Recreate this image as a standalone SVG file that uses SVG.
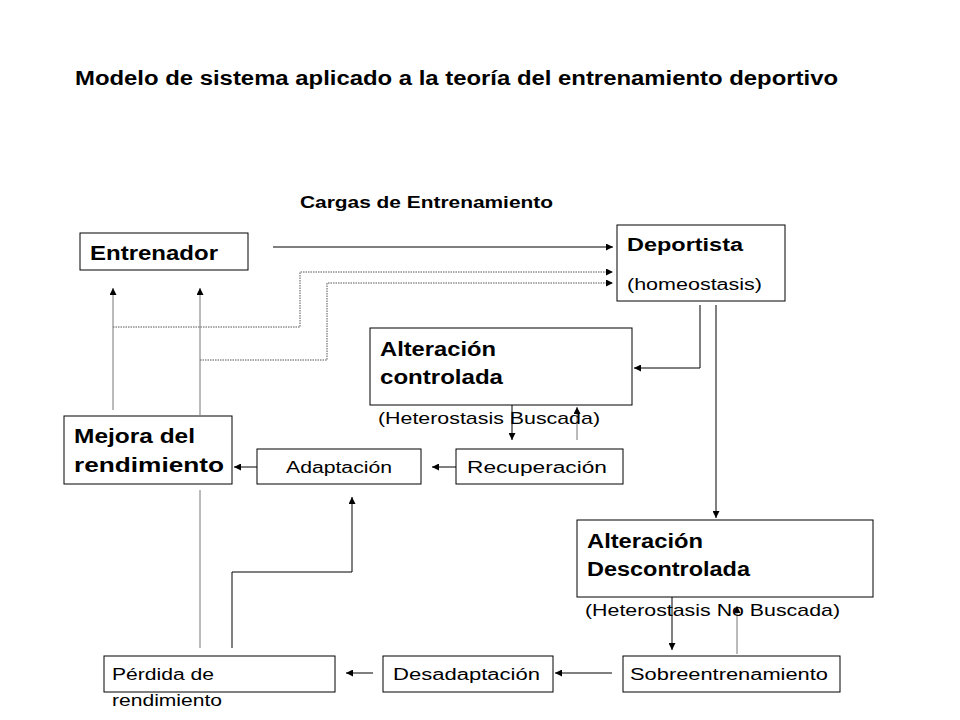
<svg xmlns="http://www.w3.org/2000/svg" width="960" height="720" viewBox="0 0 960 720">
<style>
text{font-family:"Liberation Sans",Arial,sans-serif;fill:#000}
.b{font-weight:bold}
.box{fill:#fff;stroke:#000;stroke-width:1}
.l{fill:none;stroke:#000;stroke-width:1}
.g{fill:none;stroke:#777;stroke-width:1}
.d{fill:none;stroke:#555;stroke-width:1;stroke-dasharray:1.5 1}
</style>
<defs><marker id="a" viewBox="0 0 10 10" refX="10" refY="5" markerWidth="7" markerHeight="7" orient="auto" markerUnits="userSpaceOnUse"><path d="M0,0L10,5L0,10z" fill="#000"/></marker></defs>
<rect width="960" height="720" fill="#fff"/>
<text x="75" y="85" class="b" font-size="20" textLength="763" lengthAdjust="spacingAndGlyphs">Modelo de sistema aplicado a la teoría del entrenamiento deportivo</text>
<text x="300" y="208" class="b" font-size="16" textLength="253" lengthAdjust="spacingAndGlyphs">Cargas de Entrenamiento</text>
<g id="connectors">
<path class="l" d="M273,247H613" marker-end="url(#a)"/>
<path class="d" d="M113,327H300V272H613" marker-end="url(#a)"/>
<path class="d" d="M200,360H327V283H613" marker-end="url(#a)"/>
<path class="g" d="M113,410V288" marker-end="url(#a)"/>
<path class="g" d="M200,415V288" marker-end="url(#a)"/>
<path class="l" d="M700,305V368H634" marker-end="url(#a)"/>
<path class="l" d="M716,305V518" marker-end="url(#a)"/>
<path class="l" d="M512,405V440" marker-end="url(#a)"/>
<path class="g" d="M577,440V407" marker-end="url(#a)"/>
<path class="l" d="M456,467H432" marker-end="url(#a)"/>
<path class="l" d="M257,467H234" marker-end="url(#a)"/>
<path class="l" d="M672,597V650" marker-end="url(#a)"/>
<path class="g" d="M737,654V606" marker-end="url(#a)"/>
<path class="l" d="M612,673H555" marker-end="url(#a)"/>
<path class="l" d="M373,673H346" marker-end="url(#a)"/>
<path class="g" d="M200,490V648"/>
<path class="l" d="M232,648V572H352V497" marker-end="url(#a)"/>
</g>
<g id="entrenador"><rect class="box" x="80" y="233" width="168" height="37"/><text x="90" y="260" class="b" font-size="21" textLength="128" lengthAdjust="spacingAndGlyphs">Entrenador</text></g>
<g id="deportista"><rect class="box" x="617" y="225" width="168" height="76"/><text x="627" y="251" class="b" font-size="18" textLength="116" lengthAdjust="spacingAndGlyphs">Deportista</text><text x="627" y="290" font-size="16" textLength="135" lengthAdjust="spacingAndGlyphs">(homeostasis)</text></g>
<g id="alt-controlada"><rect class="box" x="370" y="328" width="262" height="77"/><text x="380" y="356" class="b" font-size="20" textLength="116" lengthAdjust="spacingAndGlyphs">Alteración</text><text x="380" y="384" class="b" font-size="20" textLength="123" lengthAdjust="spacingAndGlyphs">controlada</text><text x="378" y="424" font-size="17" textLength="222" lengthAdjust="spacingAndGlyphs">(Heterostasis Buscada)</text></g>
<g id="mejora"><rect class="box" x="64" y="416" width="168" height="68"/><text x="74" y="443" class="b" font-size="20" textLength="121" lengthAdjust="spacingAndGlyphs">Mejora del</text><text x="74" y="472" class="b" font-size="20" textLength="150" lengthAdjust="spacingAndGlyphs">rendimiento</text></g>
<g id="adaptacion"><rect class="box" x="257" y="449" width="164" height="35"/><text x="286" y="473" font-size="16" textLength="106" lengthAdjust="spacingAndGlyphs">Adaptación</text></g>
<g id="recuperacion"><rect class="box" x="456" y="449" width="167" height="35"/><text x="467" y="473" font-size="16" textLength="140" lengthAdjust="spacingAndGlyphs">Recuperación</text></g>
<g id="alt-descontrolada"><rect class="box" x="577" y="520" width="296" height="77"/><text x="587" y="548" class="b" font-size="20" textLength="116" lengthAdjust="spacingAndGlyphs">Alteración</text><text x="587" y="576" class="b" font-size="20" textLength="163" lengthAdjust="spacingAndGlyphs">Descontrolada</text><text x="585" y="616" font-size="17" textLength="255" lengthAdjust="spacingAndGlyphs">(Heterostasis No Buscada)</text></g>
<g id="perdida"><rect class="box" x="104" y="656" width="231" height="36"/><text x="112" y="680" font-size="16" textLength="102" lengthAdjust="spacingAndGlyphs">Pérdida de</text><text x="112" y="706" font-size="16" textLength="110" lengthAdjust="spacingAndGlyphs">rendimiento</text></g>
<g id="desadaptacion"><rect class="box" x="383" y="656" width="170" height="36"/><text x="393" y="680" font-size="16" textLength="147" lengthAdjust="spacingAndGlyphs">Desadaptación</text></g>
<g id="sobreentrenamiento"><rect class="box" x="623" y="656" width="217" height="36"/><text x="630" y="680" font-size="16" textLength="198" lengthAdjust="spacingAndGlyphs">Sobreentrenamiento</text></g>
</svg>
